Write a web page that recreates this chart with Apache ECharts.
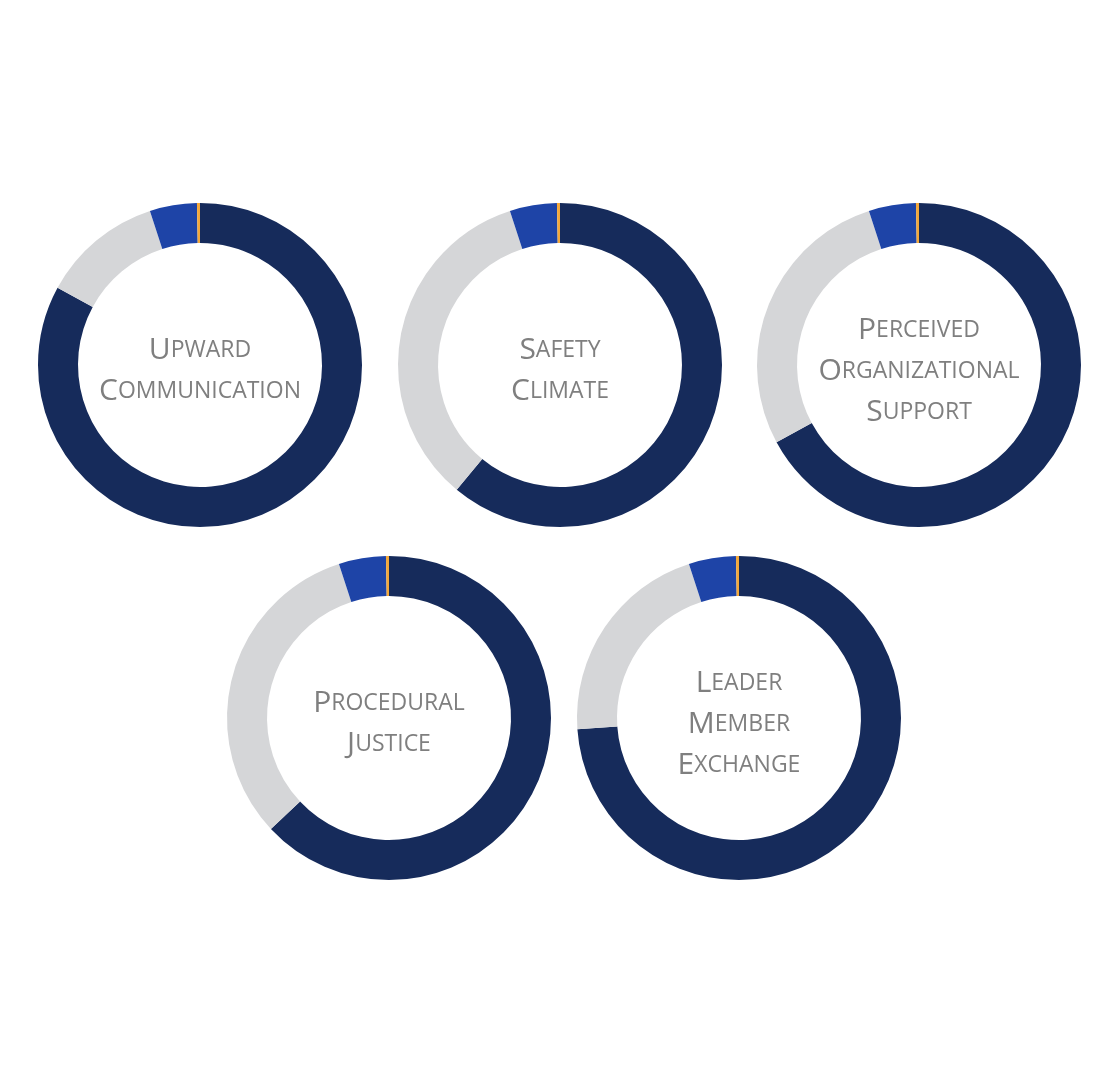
<!DOCTYPE html>
<html>
<head>
<meta charset="utf-8">
<script src="https://cdn.jsdelivr.net/npm/echarts@6/dist/echarts.min.js"></script>
<style>
  html, body { margin: 0; padding: 0; background: #ffffff; }
  #chart { width: 1100px; height: 1080px; }
</style>
</head>
<body>
<div id="chart"></div>
<script>
// ---- data ----
const categories = [
  ['Upward', 'Communication'],
  ['Safety', 'Climate'],
  ['Perceived', 'Organizational', 'Support'],
  ['Procedural', 'Justice'],
  ['Leader', 'Member', 'Exchange']
];
const segmentNames = ['Favorable', 'Other', 'Unfavorable', 'Marker'];
const favorable   = [82.9, 61.0, 67.1, 63.0, 73.9];
const other       = [12.1, 34.0, 27.9, 32.0, 21.1];
const unfavorable = [4.7, 4.7, 4.7, 4.7, 4.7];
const marker      = [0.3, 0.3, 0.3, 0.3, 0.3];

// ---- layout / style ----
const centers = [[200, 365], [560, 365], [919, 365], [389, 718], [739, 718]];
const colors = ['#162B5B', '#D5D6D8', '#1E44A7', '#F3A83B'];

function smallCaps(word) {
  return '{a|' + word.charAt(0).toUpperCase() + '}{b|' + word.slice(1).toUpperCase() + '}';
}

const series = categories.map((cat, i) => ({
  type: 'pie',
  center: centers[i],
  radius: [122, 162],
  startAngle: 90,
  clockwise: true,
  silent: true,
  label: { show: false },
  labelLine: { show: false },
  itemStyle: { borderWidth: 0 },
  data: [
    { name: segmentNames[0], value: favorable[i],   itemStyle: { color: colors[0] } },
    { name: segmentNames[1], value: other[i],       itemStyle: { color: colors[1] } },
    { name: segmentNames[2], value: unfavorable[i], itemStyle: { color: colors[2] } },
    { name: segmentNames[3], value: marker[i],      itemStyle: { color: colors[3] } }
  ]
}));

const titles = categories.map((cat, i) => ({
  text: cat.map(smallCaps).join('\n'),
  left: centers[i][0],
  top: centers[i][1] + 6,
  textAlign: 'center',
  textVerticalAlign: 'middle',
  padding: 0,
  textStyle: {
    fontWeight: 'normal',
    rich: {
      a: { fontFamily: 'Open Sans', fontWeight: 'normal', fontSize: 30, color: '#7F7F7F', lineHeight: 41 },
      b: { fontFamily: 'Open Sans', fontWeight: 'normal', fontSize: 23, color: '#7F7F7F', lineHeight: 41 }
    }
  }
}));

const chart = echarts.init(document.getElementById('chart'));
chart.setOption({
  backgroundColor: '#ffffff',
  animation: false,
  title: titles,
  series: series
});
</script>
</body>
</html>
